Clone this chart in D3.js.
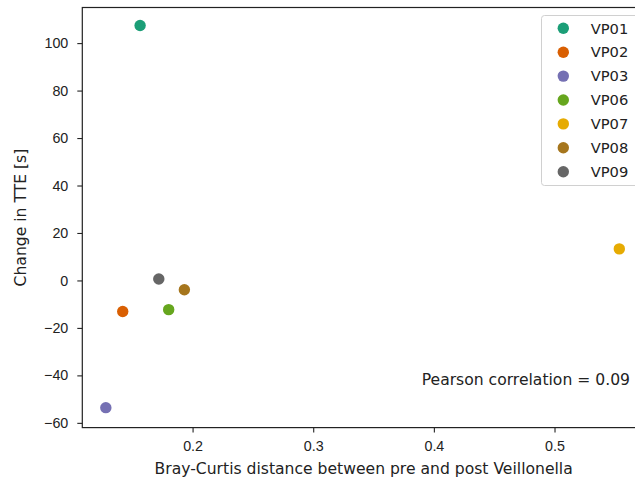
<!DOCTYPE html>
<html>
<head>
<meta charset="utf-8">
<script src="https://cdn.jsdelivr.net/npm/d3@7"></script>
<style>
  html, body { margin: 0; padding: 0; background: #fff; }
  svg { display: block; font-family: "DejaVu Sans", sans-serif; }
</style>
</head>
<body>
<div id="chart"></div>
<script>
// participants and their values
const subjects = ['VP01', 'VP02', 'VP03', 'VP06', 'VP07', 'VP08', 'VP09'];
const brayCurtis = [0.1565, 0.1421, 0.1281, 0.1802, 0.5537, 0.1932, 0.1720];
const tteChange = [107.4, -13.1, -53.6, -12.3, 13.3, -3.9, 0.6];
const colors = ['#1b9e77', '#d95f02', '#7570b3', '#66a61e', '#e6ab02', '#a6761d', '#666666'];
const xTicks = [0.2, 0.3, 0.4, 0.5];
const yTicks = [-60, -40, -20, 0, 20, 40, 60, 80, 100];
const pearson = 0.09;

const width = 635, height = 478;
const margin = { left: 82.3, top: 7.5, bottom: 427.6 };
const plotRight = 645; // axes runs past the window edge in the original

const svg = d3.select('#chart').append('svg')
    .attr('width', width)
    .attr('height', height);

const x = d3.scaleLinear().domain([0.1086, 0.575]).range([margin.left, plotRight]);
const y = d3.scaleLinear().domain([-62, 115]).range([margin.bottom, margin.top]);

// axes
const xAxis = d3.axisBottom(x).tickValues(xTicks).tickSize(5).tickPadding(8)
    .tickFormat(d3.format('.1f'));
const yAxis = d3.axisLeft(y).tickValues(yTicks).tickSize(5).tickPadding(9)
    .tickFormat(d => d < 0 ? '\u2212' + Math.abs(d) : d);

const gx = svg.append('g')
    .attr('transform', `translate(0,${margin.bottom})`)
    .call(xAxis);
const gy = svg.append('g')
    .attr('transform', `translate(${margin.left},0)`)
    .call(yAxis);

[gx, gy].forEach(g => {
    g.select('.domain').remove();
    g.selectAll('.tick line').attr('stroke', '#222').attr('stroke-width', 1.1);
    g.selectAll('.tick text').attr('fill', '#222').style('font-size', '14.3px');
});

// frame
svg.append('rect')
    .attr('x', margin.left)
    .attr('y', margin.top)
    .attr('width', plotRight - margin.left)
    .attr('height', margin.bottom - margin.top)
    .attr('fill', 'none')
    .attr('stroke', '#222')
    .attr('stroke-width', 1.2);

// points
const points = subjects.map((s, i) => ({ name: s, bc: brayCurtis[i], tte: tteChange[i], color: colors[i] }));
svg.append('g').selectAll('circle')
    .data(points)
    .join('circle')
    .attr('cx', d => x(d.bc))
    .attr('cy', d => y(d.tte))
    .attr('r', 5.7)
    .attr('fill', d => d.color);

// axis labels
svg.append('text')
    .attr('x', (margin.left + plotRight) / 2)
    .attr('y', 473.5)
    .attr('text-anchor', 'middle')
    .attr('fill', '#222')
    .style('font-size', '15.6px')
    .text('Bray-Curtis distance between pre and post Veillonella');

svg.append('text')
    .attr('transform', `translate(26,${(margin.top + margin.bottom) / 2}) rotate(-90)`)
    .attr('text-anchor', 'middle')
    .attr('fill', '#222')
    .style('font-size', '15.6px')
    .text('Change in TTE [s]');

// correlation note
svg.append('text')
    .attr('x', 630)
    .attr('y', 385)
    .attr('text-anchor', 'end')
    .attr('fill', '#222')
    .style('font-size', '15.6px')
    .text(`Pearson correlation = ${pearson.toFixed(2)}`);

// legend
const legend = svg.append('g');
legend.append('rect')
    .attr('x', 541.5)
    .attr('y', 15.5)
    .attr('width', 120)
    .attr('height', 170)
    .attr('rx', 3)
    .attr('fill', '#fff')
    .attr('fill-opacity', 0.8)
    .attr('stroke', '#d0d0d0');

const items = legend.selectAll('g.item')
    .data(points)
    .join('g')
    .attr('class', 'item')
    .attr('transform', (d, i) => `translate(0,${28.3 + i * 23.9})`);
items.append('circle')
    .attr('cx', 563.3)
    .attr('cy', 0)
    .attr('r', 5.7)
    .attr('fill', d => d.color);
items.append('text')
    .attr('x', 590.7)
    .attr('y', 0)
    .attr('dy', '0.36em')
    .attr('fill', '#222')
    .style('font-size', '14.7px')
    .text(d => d.name);
</script>
</body>
</html>
